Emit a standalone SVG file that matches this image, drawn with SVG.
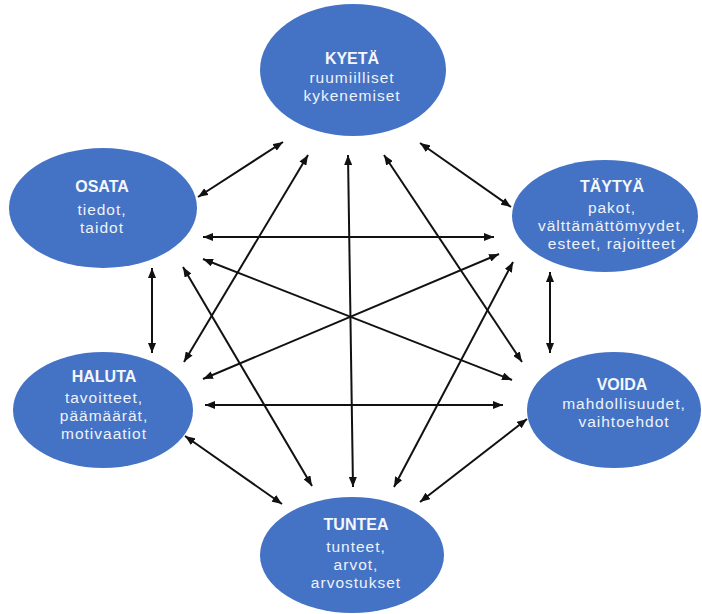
<svg xmlns="http://www.w3.org/2000/svg" width="702" height="614" viewBox="0 0 702 614">
<defs>
<marker id="ah" viewBox="0 0 10 8" refX="10" refY="4" markerWidth="10" markerHeight="8" markerUnits="userSpaceOnUse" orient="auto-start-reverse">
<path d="M0,0 L10,4 L0,8 z" fill="#111"/>
</marker>
<style>
.node ellipse { fill: #4472C4; }
.t { font-family: "Liberation Sans", Arial, sans-serif; font-weight: bold; font-size: 16px; fill: #f4f7fc; text-anchor: middle; }
.s { font-family: "Liberation Sans", Arial, sans-serif; font-size: 15.5px; letter-spacing: 1px; fill: #eef3fb; text-anchor: middle; }
#connectors line { stroke: #111; stroke-width: 2; marker-start: url(#ah); marker-end: url(#ah); }
</style>
</defs>
<rect width="702" height="614" fill="#ffffff"/>
<g id="connectors">
<line x1="283" y1="142" x2="198" y2="197"/>
<line x1="420" y1="143" x2="511" y2="207"/>
<line x1="348" y1="155" x2="353" y2="487"/>
<line x1="308" y1="155" x2="184" y2="362"/>
<line x1="384" y1="155" x2="522" y2="362"/>
<line x1="203" y1="237" x2="494" y2="237"/>
<line x1="203" y1="259" x2="512" y2="380"/>
<line x1="183" y1="267" x2="312" y2="486"/>
<line x1="152" y1="268" x2="152" y2="353"/>
<line x1="499" y1="254" x2="203" y2="379"/>
<line x1="513" y1="262" x2="394" y2="487"/>
<line x1="550" y1="272" x2="550" y2="353"/>
<line x1="205" y1="405" x2="503" y2="405"/>
<line x1="185" y1="436" x2="282" y2="504"/>
<line x1="527" y1="419" x2="420" y2="502"/>
</g>
<g id="kyeta" class="node">
<ellipse cx="353" cy="70" rx="93" ry="66"/>
<text class="t" x="352" y="64">KYETÄ</text>
<text class="s" x="352" y="83">ruumiilliset</text>
<text class="s" x="352" y="101">kykenemiset</text>
</g>
<g id="osata" class="node">
<ellipse cx="103" cy="208" rx="94" ry="60"/>
<text class="t" x="102" y="192">OSATA</text>
<text class="s" x="102" y="215">tiedot,</text>
<text class="s" x="102" y="233">taidot</text>
</g>
<g id="taytya" class="node">
<ellipse cx="605" cy="216" rx="93" ry="56"/>
<text class="t" x="612" y="192">TÄYTYÄ</text>
<text class="s" x="612" y="213">pakot,</text>
<text class="s" x="612" y="231">välttämättömyydet,</text>
<text class="s" x="612" y="249">esteet, rajoitteet</text>
</g>
<g id="haluta" class="node">
<ellipse cx="103" cy="410" rx="90" ry="58"/>
<text class="t" x="104" y="382">HALUTA</text>
<text class="s" x="104" y="403">tavoitteet,</text>
<text class="s" x="104" y="421">päämäärät,</text>
<text class="s" x="104" y="439">motivaatiot</text>
</g>
<g id="voida" class="node">
<ellipse cx="614" cy="410" rx="87" ry="58"/>
<text class="t" x="622" y="390">VOIDA</text>
<text class="s" x="624" y="409">mahdollisuudet,</text>
<text class="s" x="624" y="427">vaihtoehdot</text>
</g>
<g id="tuntea" class="node">
<ellipse cx="352" cy="555" rx="92" ry="58"/>
<text class="t" x="356" y="530">TUNTEA</text>
<text class="s" x="356" y="552">tunteet,</text>
<text class="s" x="356" y="570">arvot,</text>
<text class="s" x="356" y="588">arvostukset</text>
</g>
</svg>
